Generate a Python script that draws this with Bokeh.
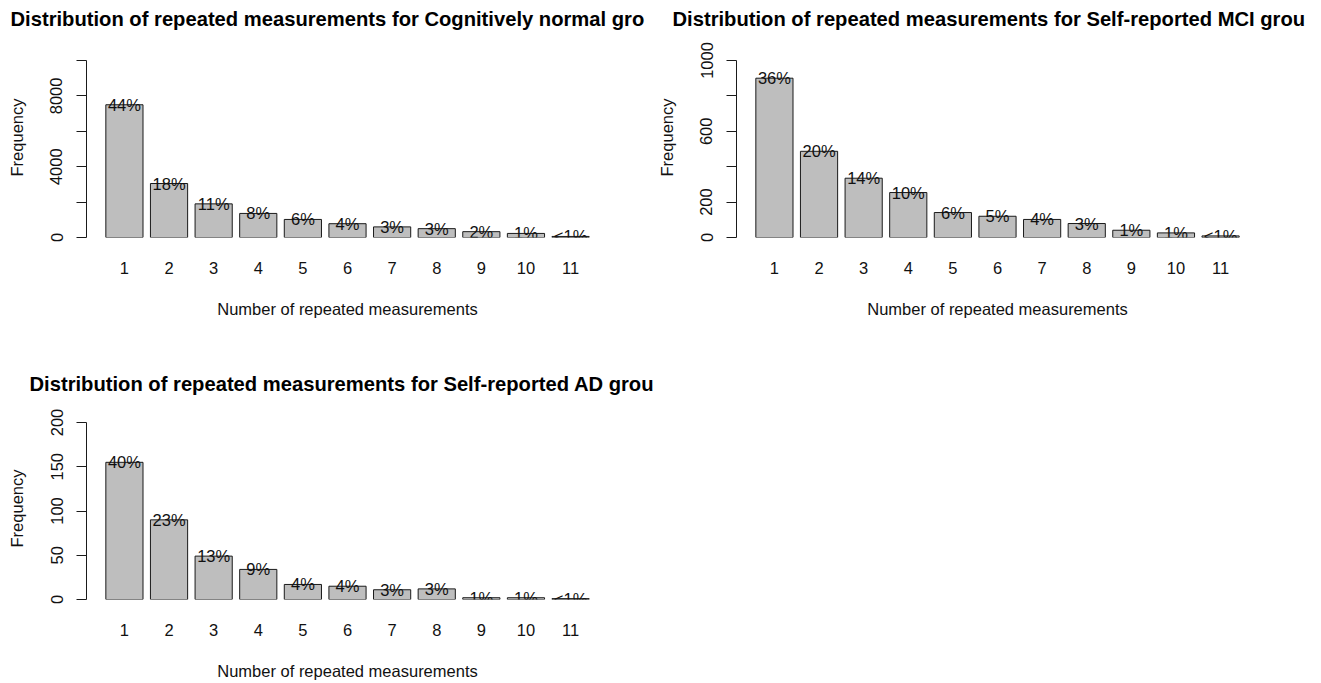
from bokeh.plotting import figure
from bokeh.models import Range1d, FixedTicker, ColumnDataSource
from bokeh.layouts import column, row
from bokeh.embed import file_html
from bokeh.resources import INLINE

# ---------------- data ----------------
categories = ["1", "2", "3", "4", "5", "6", "7", "8", "9", "10", "11"]

cn_title = "Distribution of repeated measurements for Cognitively normal gro"
cn_freq = [7500, 3050, 1900, 1360, 1020, 780, 600, 500, 330, 230, 60]
cn_pct = ["44%", "18%", "11%", "8%", "6%", "4%", "3%", "3%", "2%", "1%", "<1%"]
cn_yticks = [0, 2000, 4000, 6000, 8000, 10000]
cn_ylabels = ["0", "", "4000", "", "8000", ""]

mci_title = "Distribution of repeated measurements for Self-reported MCI grou"
mci_freq = [900, 487, 335, 254, 141, 120, 102, 79, 41, 26, 9]
mci_pct = ["36%", "20%", "14%", "10%", "6%", "5%", "4%", "3%", "1%", "1%", "<1%"]
mci_yticks = [0, 200, 400, 600, 800, 1000]
mci_ylabels = ["0", "200", "", "600", "", "1000"]

ad_title = "Distribution of repeated measurements for Self-reported AD grou"
ad_freq = [155, 90, 49, 34, 17, 15, 11, 12, 2, 2, 1]
ad_pct = ["40%", "23%", "13%", "9%", "4%", "4%", "3%", "3%", "1%", "1%", "<1%"]
ad_yticks = [0, 50, 100, 150, 200]
ad_ylabels = ["0", "50", "100", "150", "200"]

x_label = "Number of repeated measurements"
y_label = "Frequency"

FONT = "Liberation Sans"
LABEL_SIZE = "16.5px"
BAR_W = 1.0
SPACE = 0.2
AXIS_PX = 177  # pixel length of the drawn y axis (0 .. top tick)


def make_panel(title, freq, pct, yticks, ylabels, width, height,
               bl, br, top_px, bb, title_offset, title_standoff, xlab_standoff):
    n = len(categories)
    xs = [SPACE + BAR_W / 2 + i * (BAR_W + SPACE) for i in range(n)]
    lo = SPACE
    hi = n * (BAR_W + SPACE)
    pad = 0.04 * (hi - lo)
    frame_px = height - top_px - bb
    y_end = yticks[-1] * frame_px / AXIS_PX
    p = figure(width=width, height=height,
               x_range=Range1d(lo - pad, hi + pad),
               y_range=Range1d(0, y_end),
               output_backend="svg", toolbar_location=None,
               min_border_left=bl, min_border_right=br,
               min_border_top=top_px, min_border_bottom=bb)
    src = ColumnDataSource(dict(x=xs, top=freq, label=pct, cat=categories))
    p.vbar(x="x", top="top", bottom=0, width=BAR_W, source=src,
           fill_color="#bebebe", line_color="#1a1a1a", line_width=1)
    p.text(x="x", y="top", text="label", source=src,
           text_align="center", text_baseline="middle",
           text_font_size=LABEL_SIZE, text_color="#111111",
           text_font={"value": FONT})

    p.title.text = title
    p.title.align = "left"
    p.title.vertical_align = "top"
    p.title.offset = title_offset
    p.title.standoff = title_standoff
    p.title.text_font = FONT
    p.title.text_font_size = "20.2px"
    p.title.text_font_style = "bold"
    p.title.text_color = "#000000"

    p.xgrid.visible = False
    p.ygrid.visible = False
    p.outline_line_color = None
    p.background_fill_color = "white"
    p.border_fill_color = "white"

    xa = p.xaxis[0]
    xa.ticker = FixedTicker(ticks=xs)
    xa.major_label_overrides = {x: c for x, c in zip(xs, categories)}
    xa.axis_line_color = None
    xa.major_tick_line_color = None
    xa.minor_tick_line_color = None
    xa.major_tick_out = 0
    xa.major_tick_in = 0
    xa.major_label_standoff = 24
    xa.major_label_text_font = FONT
    xa.major_label_text_font_size = LABEL_SIZE
    xa.major_label_text_color = "#111111"
    xa.axis_label = x_label
    xa.axis_label_text_font = FONT
    xa.axis_label_text_font_size = LABEL_SIZE
    xa.axis_label_text_font_style = "normal"
    xa.axis_label_text_color = "#111111"
    xa.axis_label_standoff = xlab_standoff

    ya = p.yaxis[0]
    ya.bounds = (yticks[0], yticks[-1])
    ya.ticker = FixedTicker(ticks=yticks)
    ya.major_label_overrides = {t: l for t, l in zip(yticks, ylabels)}
    ya.minor_tick_line_color = None
    ya.axis_line_color = "#1a1a1a"
    ya.major_tick_line_color = "#1a1a1a"
    ya.major_tick_out = 10
    ya.major_tick_in = 0
    ya.major_label_orientation = "vertical"
    ya.major_label_standoff = 14
    ya.major_label_text_font = FONT
    ya.major_label_text_font_size = LABEL_SIZE
    ya.major_label_text_color = "#111111"
    ya.axis_label = y_label
    ya.axis_label_text_font = FONT
    ya.axis_label_text_font_size = LABEL_SIZE
    ya.axis_label_text_font_style = "normal"
    ya.axis_label_text_color = "#111111"
    ya.axis_label_standoff = 22
    return p


p1 = make_panel(cn_title, cn_freq, cn_pct, cn_yticks, cn_ylabels,
                652, 350, 86, 44, 37, 113, -76, 11, 23)
p2 = make_panel(mci_title, mci_freq, mci_pct, mci_yticks, mci_ylabels,
                669, 350, 84, 63, 37, 113, -64, 11, 23)
p3 = make_panel(ad_title, ad_freq, ad_pct, ad_yticks, ad_ylabels,
                660, 333, 86, 52, 67, 84, -57, 41, 23)

layout = column(row(p1, p2), row(p3))

with open("out.html", "w") as f:
    f.write(file_html(layout, INLINE))
